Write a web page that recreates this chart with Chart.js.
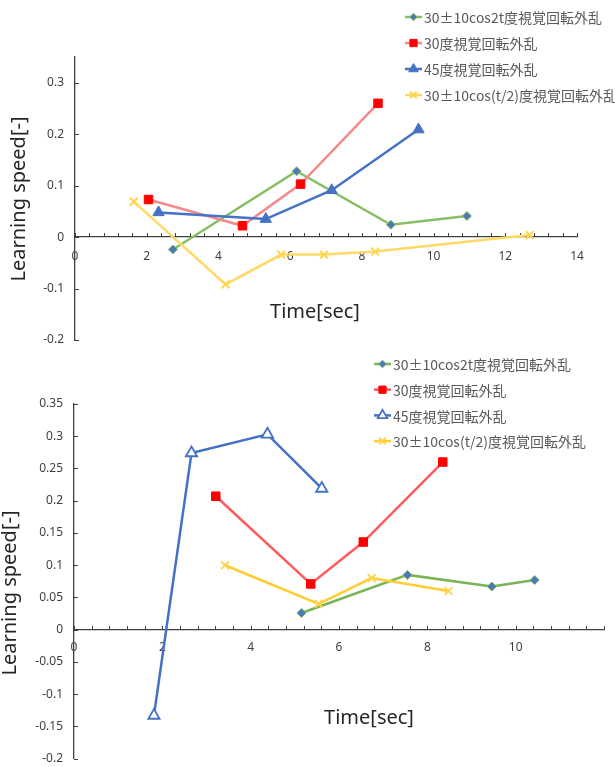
<!DOCTYPE html>
<html>
<head>
<meta charset="utf-8">
<script src="https://cdn.jsdelivr.net/npm/chart.js"></script>
<style>
  body { margin: 0; background: #fff; }
  canvas { display: block; }
</style>
</head>
<body>
<canvas id="graficoA" width="615" height="350"></canvas>
<canvas id="graficoB" width="615" height="417"></canvas>
<script>
const nombres = ['30±10cos2t度視覚回転外乱', '30度視覚回転外乱', '45度視覚回転外乱', '30±10cos(t/2)度視覚回転外乱']

// grafico de arriba
const tiempoA_cos2t = [2.73, 6.18, 8.81, 10.93]
const velA_cos2t = [-0.024, 0.128, 0.024, 0.041]
const tiempoA_30 = [2.05, 4.67, 6.29, 8.45]
const velA_30 = [0.073, 0.022, 0.103, 0.260]
const tiempoA_45 = [2.33, 5.32, 7.16, 9.58]
const velA_45 = [0.048, 0.035, 0.091, 0.209]
const tiempoA_cosMedio = [1.64, 4.20, 5.75, 6.94, 8.37, 12.68]
const velA_cosMedio = [0.069, -0.092, -0.034, -0.034, -0.028, 0.004]
const xEtiquetasA = [0, 2, 4, 6, 8, 10, 12, 14]
const yEtiquetasA = [-0.2, -0.1, 0, 0.1, 0.2, 0.3]

// grafico de abajo
const tiempoB_cos2t = [5.15, 7.55, 9.46, 10.43]
const velB_cos2t = [0.026, 0.085, 0.067, 0.077]
const tiempoB_30 = [3.21, 5.36, 6.55, 8.35]
const velB_30 = [0.207, 0.071, 0.136, 0.260]
const tiempoB_45 = [1.81, 2.66, 4.38, 5.61]
const velB_45 = [-0.133, 0.274, 0.303, 0.219]
const tiempoB_cosMedio = [3.42, 5.54, 6.74, 8.48]
const velB_cosMedio = [0.100, 0.040, 0.080, 0.060]
const xEtiquetasB = [0, 2, 4, 6, 8, 10]
const yEtiquetasB = [-0.2, -0.15, -0.1, -0.05, 0, 0.05, 0.1, 0.15, 0.2, 0.25, 0.3, 0.35]

const serie = (label, xs, ys, estilo) => ({
  label,
  data: xs.map((x, i) => ({ x, y: ys[i] })),
  showLine: true,
  borderWidth: 2.5,
  ...estilo
})

const marcas = {
  id: 'marcas',
  beforeDatasetsDraw(chart) {
    const { ctx, chartArea, scales: { x, y } } = chart
    const y0 = Math.round(y.getPixelForValue(0))
    const x0 = Math.round(chartArea.left)
    ctx.save()
    ctx.strokeStyle = '#404040'
    ctx.lineWidth = 1
    ctx.beginPath()
    x.ticks.forEach(t => {
      const px = Math.round(x.getPixelForValue(t.value)) + 0.5
      ctx.moveTo(px, y0)
      ctx.lineTo(px, y0 - 4)
    })
    y.ticks.forEach(t => {
      const py = Math.round(y.getPixelForValue(t.value)) + 0.5
      ctx.moveTo(x0, py)
      ctx.lineTo(x0 + 4, py)
    })
    ctx.stroke()
    ctx.restore()
  }
}

const textos = {
  id: 'textos',
  afterDraw(chart, args, o) {
    const ctx = chart.ctx
    ctx.save()
    // titulos de ejes
    ctx.fillStyle = '#262626'
    ctx.font = '20px "Noto Sans"'
    ctx.textAlign = 'center'
    ctx.textBaseline = 'middle'
    ctx.fillText('Time[sec]', o.tituloX[0], o.tituloX[1])
    ctx.save()
    ctx.translate(o.tituloY[0], o.tituloY[1])
    ctx.rotate(-Math.PI / 2)
    ctx.fillText('Learning speed[-]', 0, 0)
    ctx.restore()
    // leyenda
    ctx.textAlign = 'left'
    ctx.font = '14px "Noto Sans CJK JP"'
    chart.data.datasets.forEach((ds, i) => {
      const y = o.leyenda.y + i * o.leyenda.dy
      const x = o.leyenda.x
      ctx.strokeStyle = ds.borderColor
      ctx.lineWidth = 2.5
      ctx.beginPath()
      ctx.moveTo(x, y)
      ctx.lineTo(x + 17, y)
      ctx.stroke()
      ctx.fillStyle = ds.pointBackgroundColor
      ctx.strokeStyle = ds.pointBorderColor
      ctx.lineWidth = ds.pointBorderWidth
      Chart.helpers.drawPoint(ctx, { pointStyle: ds.pointStyle, radius: ds.pointRadius * 0.85, borderWidth: ds.pointBorderWidth, rotation: 0 }, x + 8.5, y)
      ctx.fillStyle = '#595959'
      ctx.fillText(ds.label, x + 19, y + 1)
    })
    ctx.restore()
  }
}

const crearGrafico = (id, datasets, cfg) => {
  const ctx = document.getElementById(id).getContext('2d')
  new Chart(ctx, {
    type: 'scatter',
    data: { datasets },
    options: {
      responsive: false,
      animation: false,
      layout: { padding: cfg.padding },
      plugins: {
        legend: { display: false },
        tooltip: { enabled: false },
        textos: cfg.textos
      },
      scales: {
        x: {
          type: 'linear',
          position: { y: 0 },
          min: cfg.xMin, max: cfg.xMax,
          grid: { display: false, drawTicks: false },
          border: { display: true, color: '#404040', width: 1.3 },
          ticks: {
            stepSize: 0.4,
            autoSkip: false,
            maxRotation: 0,
            padding: cfg.xPad,
            color: '#404040',
            font: { family: 'Noto Sans', size: 12 },
            callback: v => cfg.xEtiquetas.some(l => Math.abs(l - v) < 1e-6) ? String(Math.round(v)) : ''
          }
        },
        y: {
          type: 'linear',
          min: cfg.yMin, max: cfg.yMax,
          afterFit: s => {
            s.width = cfg.anchoY
            s.paddingTop = 0
            s.paddingBottom = 0
          },
          afterBuildTicks: s => { s.ticks = cfg.yEtiquetas.map(v => ({ value: v })) },
          grid: { display: false, drawTicks: false },
          border: { display: true, color: '#404040', width: 1.3 },
          ticks: {
            padding: 11,
            color: '#404040',
            font: { family: 'Noto Sans', size: 12 },
            callback: v => String(v)
          }
        }
      }
    },
    plugins: [marcas, textos]
  })
}

const verde = { borderColor: '#86BF63', pointStyle: 'rectRot', pointRadius: 4.5, pointBackgroundColor: '#4A78B8', pointBorderColor: '#86BF63', pointBorderWidth: 1, order: 4 }
const amarillo = { borderColor: '#FFD966', pointStyle: 'crossRot', pointRadius: 5.5, pointBackgroundColor: '#FFD54F', pointBorderColor: '#FFD54F', pointBorderWidth: 2, order: 1 }

crearGrafico('graficoA', [
  serie(nombres[0], tiempoA_cos2t, velA_cos2t, verde),
  serie(nombres[1], tiempoA_30, velA_30, { borderColor: '#F58A8C', pointStyle: 'rect', pointRadius: 6, pointBackgroundColor: '#FF0000', pointBorderColor: '#FF0000', pointBorderWidth: 1, order: 3 }),
  serie(nombres[2], tiempoA_45, velA_45, { borderColor: '#4472C4', pointStyle: 'triangle', pointRadius: 6.5, pointBackgroundColor: '#4472C4', pointBorderColor: '#4472C4', pointBorderWidth: 1, order: 2 }),
  serie(nombres[3], tiempoA_cosMedio, velA_cosMedio, amarillo)
], {
  padding: { top: 57, right: 38, bottom: 10, left: 0 },
  anchoY: 75,
  xMin: 0, xMax: 14, yMin: -0.2, yMax: 0.35,
  xEtiquetas: xEtiquetasA, yEtiquetas: yEtiquetasA,
  xPad: 12,
  textos: { tituloX: [315, 312], tituloY: [19, 199], leyenda: { x: 405, y: 17, dy: 26 } }
})

crearGrafico('graficoB', [
  serie(nombres[0], tiempoB_cos2t, velB_cos2t, { ...verde, borderColor: '#79B455', pointBorderColor: '#79B455' }),
  serie(nombres[1], tiempoB_30, velB_30, { borderColor: '#FF5B5B', pointStyle: 'rect', pointRadius: 6, pointBackgroundColor: '#FF0000', pointBorderColor: '#FF0000', pointBorderWidth: 1, order: 3 }),
  serie(nombres[2], tiempoB_45, velB_45, { borderColor: '#4472C4', pointStyle: 'triangle', pointRadius: 6.5, pointBackgroundColor: '#FFFFFF', pointBorderColor: '#4472C4', pointBorderWidth: 1.8, order: 2 }),
  serie(nombres[3], tiempoB_cosMedio, velB_cosMedio, { ...amarillo, borderColor: '#FFCC33', pointBackgroundColor: '#FFD54F', pointBorderColor: '#FFD54F' })
], {
  padding: { top: 54, right: 0, bottom: 8, left: 0 },
  anchoY: 74,
  xMin: 0, xMax: 12, yMin: -0.2, yMax: 0.35,
  xEtiquetas: xEtiquetasB, yEtiquetas: yEtiquetasB,
  xPad: 11,
  textos: { tituloX: [369, 368], tituloY: [10, 243], leyenda: { x: 374, y: 14, dy: 25.7 } }
})
</script>
</body>
</html>
